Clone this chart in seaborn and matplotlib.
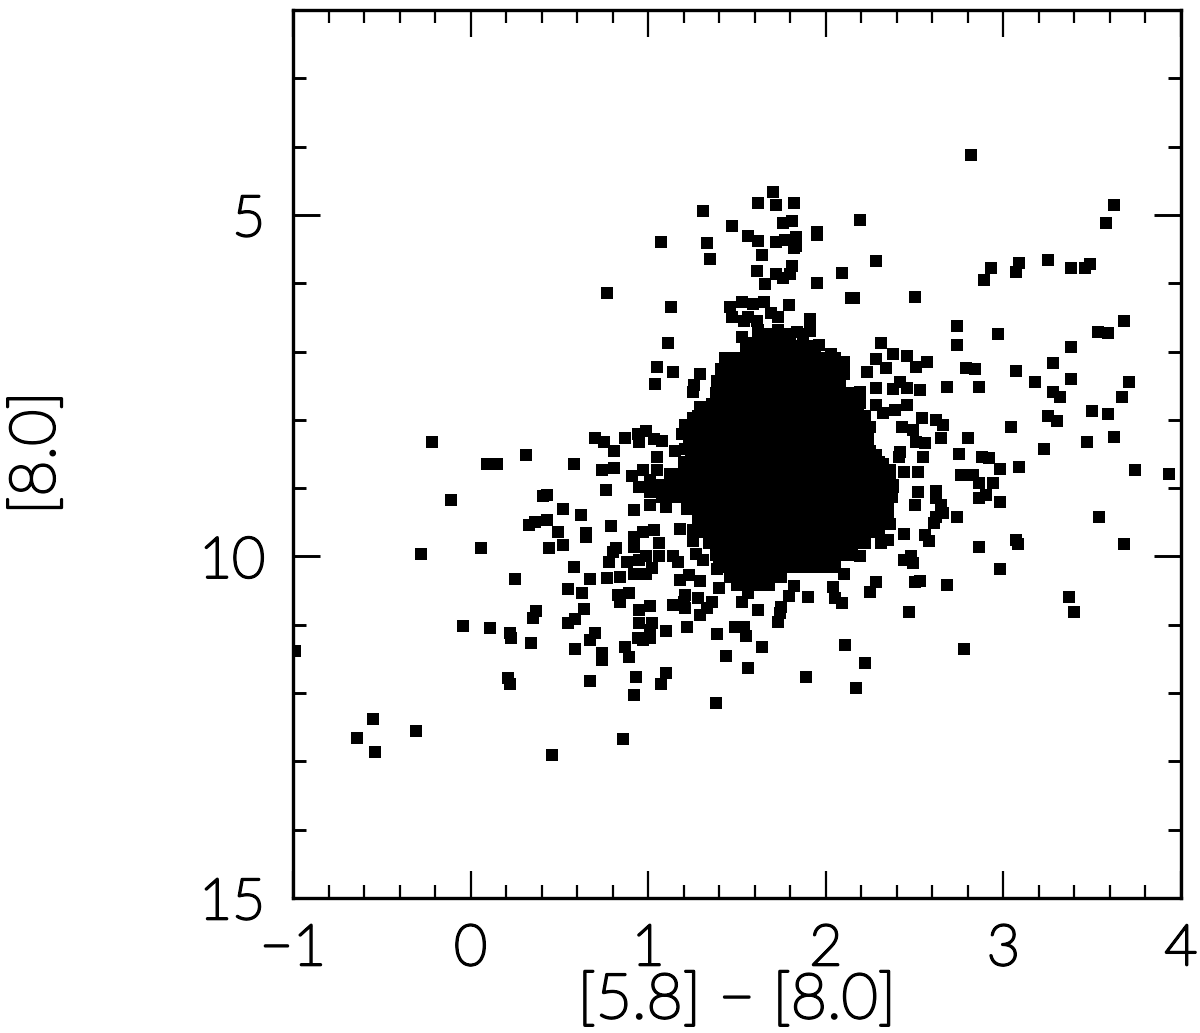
import pandas as pd
import matplotlib.pyplot as plt
import matplotlib.patheffects as pe
import seaborn as sb
from matplotlib.ticker import MultipleLocator

# (colour, magnitude), region by region
left_stars = [(1.31, 4.94), (1.47, 5.16), (1.07, 5.40), (1.33, 5.41), (1.35, 5.64), (0.77, 6.15), (1.13, 6.35),
              (1.11, 6.88), (1.05, 7.23), (1.14, 7.30), (1.04, 7.48), (1.29, 7.33), (1.26, 7.49), (1.25, 7.59),
              (1.29, 7.81), (1.25, 7.98), (1.21, 8.08), (1.19, 8.20), (1.23, 8.30), (1.21, 8.42), (1.15, 8.45),
              (-0.22, 8.33), (0.09, 8.65), (0.15, 8.64), (0.31, 8.52), (0.58, 8.65), (0.70, 8.26), (0.75, 8.32),
              (0.81, 8.45), (0.87, 8.27), (0.94, 8.20), (0.99, 8.17), (0.95, 8.32), (1.03, 8.28), (1.08, 8.31),
              (1.05, 8.54), (0.74, 8.73), (0.81, 8.71), (0.91, 8.82), (0.97, 8.74), (1.05, 8.74), (1.01, 8.88),
              (0.95, 8.98), (1.01, 9.05), (1.01, 9.25), (1.10, 9.05), (1.10, 9.27), (0.76, 9.03), (0.92, 9.32),
              (-0.11, 9.18), (0.41, 9.12), (0.43, 9.10), (0.52, 9.31), (0.62, 9.40), (0.79, 9.56), (0.33, 9.54),
              (0.36, 9.49), (0.43, 9.47), (0.49, 9.64), (0.65, 9.66), (0.65, 9.72), (0.52, 9.83), (0.44, 9.87),
              (0.06, 9.88), (-0.28, 9.96), (0.58, 10.16), (0.25, 10.33), (0.67, 10.33), (0.55, 10.48), (0.63, 10.54)]

low_stars = [(0.37, 10.80), (0.35, 10.90), (0.64, 10.77), (0.59, 10.91), (0.55, 10.97), (-0.04, 11.02), (0.11, 11.04),
             (0.22, 11.12), (0.23, 11.19), (0.34, 11.26), (0.70, 11.12), (0.67, 11.23), (0.59, 11.35), (0.74, 11.42),
             (0.74, 11.52), (0.87, 11.33), (0.89, 11.47), (0.21, 11.78), (0.22, 11.86), (0.67, 11.83), (0.93, 11.77),
             (1.10, 11.71), (1.07, 11.87), (0.92, 12.03), (1.38, 12.15), (-0.55, 12.38), (-0.64, 12.66), (-0.54, 12.86),
             (-0.31, 12.55), (0.46, 12.90), (0.86, 12.67), (-0.99, 11.39), (0.92, 9.71), (0.97, 9.64), (1.03, 9.61),
             (0.92, 9.86), (1.06, 9.81), (0.82, 9.87), (0.80, 9.93), (0.78, 10.08), (0.88, 10.08), (0.95, 10.05),
             (0.99, 10.00), (1.06, 10.00), (1.14, 10.00), (1.17, 10.08), (0.92, 10.25), (0.99, 10.25), (1.02, 10.17),
             (0.77, 10.32), (0.84, 10.30), (0.83, 10.57), (0.89, 10.53), (0.84, 10.66), (0.95, 10.79), (1.01, 10.73),
             (0.95, 10.97), (1.02, 10.97), (1.01, 11.08), (0.94, 11.19), (0.97, 11.22), (1.01, 11.20), (1.10, 11.09),
             (1.22, 11.03), (1.39, 11.13), (1.44, 11.46), (1.18, 9.60), (1.25, 9.61), (1.25, 9.78), (1.27, 9.96),
             (1.31, 10.05), (1.39, 10.18), (1.18, 10.35), (1.23, 10.27), (1.29, 10.36), (1.40, 10.46), (1.14, 10.71),
             (1.21, 10.57), (1.21, 10.76), (1.28, 10.61), (1.36, 10.66), (1.33, 10.76), (1.29, 10.86), (1.20, 10.66),
             (1.49, 11.03), (1.54, 11.03), (1.55, 11.16), (1.64, 11.32), (2.11, 11.29), (1.56, 11.64), (1.89, 11.76),
             (2.22, 11.56), (2.17, 11.93), (2.78, 11.35), (1.62, 10.79), (1.56, 10.54), (1.53, 10.66), (1.90, 10.60),
             (1.82, 10.43), (1.79, 10.58), (1.75, 10.74), (1.74, 10.83), (1.73, 10.96), (2.04, 10.44), (2.05, 10.61),
             (2.09, 10.68), (2.28, 10.38), (2.25, 10.52), (2.47, 10.82), (3.37, 10.59), (3.40, 10.81)]

top_stars = [(2.82, 4.12), (1.70, 4.66), (1.62, 4.83), (1.72, 4.86), (1.82, 4.83), (2.19, 5.07), (3.62, 4.86), (3.58, 5.12),
             (1.81, 5.09), (1.76, 5.12), (1.95, 5.25), (1.95, 5.30), (1.56, 5.31), (1.62, 5.38), (1.72, 5.40), (1.77, 5.37),
             (1.83, 5.32), (1.83, 5.46), (1.82, 5.49), (1.64, 5.59), (2.28, 5.67), (2.93, 5.77), (3.09, 5.70), (3.07, 5.83),
             (2.89, 5.96), (3.25, 5.66), (3.38, 5.78), (3.46, 5.78), (3.49, 5.72), (1.61, 5.82), (1.72, 5.86), (1.81, 5.75),
             (1.80, 5.86), (1.76, 5.92), (1.66, 6.01), (2.09, 5.85), (1.95, 5.99), (2.14, 6.22), (2.16, 6.22), (2.50, 6.20),
             (1.79, 6.32), (1.46, 6.35), (1.53, 6.27), (1.59, 6.30), (1.65, 6.28), (1.47, 6.50), (1.54, 6.56), (1.61, 6.56),
             (1.69, 6.44), (1.73, 6.49), (1.56, 6.49), (1.91, 6.52), (1.91, 6.70), (1.84, 6.71), (1.53, 6.78), (1.55, 6.88),
             (1.62, 6.69), (1.73, 6.69), (1.96, 6.91), (2.03, 7.03), (2.10, 7.16), (2.10, 7.33)]

right_stars = [(2.31, 6.87), (2.38, 7.03), (2.46, 7.07), (2.51, 7.22), (2.57, 7.16), (2.28, 7.11), (2.34, 7.24), (2.23, 7.30),
               (2.74, 6.62), (2.74, 6.91), (2.97, 6.75), (2.79, 7.24), (2.84, 7.26), (3.07, 7.29), (3.68, 6.55), (3.53, 6.71),
               (3.59, 6.73), (3.38, 6.93), (3.28, 7.17), (3.38, 7.40), (3.18, 7.45), (3.71, 7.45), (3.67, 7.66), (3.28, 7.59),
               (3.32, 7.67), (3.50, 7.87), (3.59, 7.91), (3.25, 7.95), (3.30, 8.02), (3.04, 8.11), (2.68, 7.52), (2.86, 7.52),
               (2.28, 7.54), (2.42, 7.44), (2.38, 7.55), (2.46, 7.54), (2.53, 7.56), (2.19, 7.59), (2.13, 7.61), (2.19, 7.76),
               (2.28, 7.78), (2.46, 7.78), (2.39, 7.85), (2.32, 7.90), (2.54, 7.98), (2.62, 8.00), (2.66, 8.08), (2.65, 8.26),
               (2.43, 8.10), (2.49, 8.15), (2.51, 8.32), (2.56, 8.34), (2.80, 8.27), (3.23, 8.42), (3.47, 8.32), (3.62, 8.25),
               (2.75, 8.50), (2.42, 8.47), (2.41, 8.55), (2.55, 8.55), (2.88, 8.55), (2.92, 8.56), (2.98, 8.72), (3.09, 8.69),
               (3.74, 8.74), (3.93, 8.80), (2.52, 8.76), (2.44, 8.77), (2.36, 8.73), (2.32, 8.64), (2.28, 8.51), (2.76, 8.81),
               (2.83, 8.81), (2.86, 8.92), (2.94, 8.92), (2.90, 9.10), (2.86, 9.14), (2.98, 9.21), (2.52, 9.05), (2.62, 9.04),
               (2.62, 9.15), (2.50, 9.24), (2.65, 9.25), (2.66, 9.37), (2.62, 9.42), (2.61, 9.51), (2.74, 9.42), (2.56, 9.68),
               (2.58, 9.78), (2.44, 9.67), (2.35, 9.76), (2.31, 9.80), (2.36, 9.52), (2.34, 9.17), (2.38, 8.98), (3.54, 9.42),
               (3.68, 9.82), (3.07, 9.76), (3.08, 9.82), (2.86, 9.86), (2.98, 10.18), (2.44, 10.05), (2.48, 10.00), (2.49, 10.09),
               (2.68, 10.42), (2.50, 10.37), (2.53, 10.36), (2.19, 10.00), (2.14, 9.91), (2.10, 10.25)]

# the solid clump in the middle, one magnitude row at a time
core_mag = [6.75, 6.92, 7.09, 7.26, 7.43, 7.60, 7.77, 7.94, 8.11, 8.28, 8.45, 8.62, 8.79, 8.96, 9.13, 9.30,
            9.47, 9.64, 9.81, 9.98, 10.15, 10.30, 10.42]
core_colour = [
    [1.62, 1.68, 1.74, 1.80, 1.87],
    [1.55, 1.61, 1.67, 1.73, 1.79, 1.85, 1.90, 1.94],
    [1.43, 1.49, 1.55, 1.61, 1.67, 1.73, 1.79, 1.85, 1.91, 1.97, 2.02, 2.05],
    [1.41, 1.47, 1.53, 1.59, 1.65, 1.71, 1.77, 1.83, 1.89, 1.95, 2.01, 2.05, 2.08],
    [1.39, 1.45, 1.51, 1.57, 1.63, 1.69, 1.75, 1.81, 1.87, 1.93, 1.99, 2.04, 2.08],
    [1.38, 1.44, 1.50, 1.56, 1.62, 1.68, 1.74, 1.80, 1.86, 1.92, 1.98, 2.03, 2.08],
    [1.36, 1.42, 1.48, 1.54, 1.60, 1.66, 1.72, 1.78, 1.84, 1.90, 1.96, 2.02, 2.08, 2.13, 2.18],
    [1.28, 1.34, 1.40, 1.46, 1.52, 1.58, 1.64, 1.70, 1.76, 1.82, 1.88, 1.94, 2.00, 2.06, 2.12, 2.17, 2.22],
    [1.26, 1.32, 1.38, 1.44, 1.50, 1.56, 1.62, 1.68, 1.74, 1.80, 1.86, 1.92, 1.98, 2.04, 2.10, 2.16, 2.21, 2.25],
    [1.25, 1.31, 1.37, 1.43, 1.49, 1.55, 1.61, 1.67, 1.73, 1.79, 1.85, 1.91, 1.97, 2.03, 2.09, 2.15, 2.20, 2.24],
    [1.24, 1.30, 1.36, 1.42, 1.48, 1.54, 1.60, 1.66, 1.72, 1.78, 1.84, 1.90, 1.96, 2.02, 2.08, 2.14, 2.20, 2.25],
    [1.20, 1.26, 1.32, 1.38, 1.44, 1.50, 1.56, 1.62, 1.68, 1.74, 1.80, 1.86, 1.92, 1.98, 2.04, 2.10, 2.16, 2.22, 2.26, 2.30],
    [1.12, 1.18, 1.24, 1.30, 1.36, 1.42, 1.48, 1.54, 1.60, 1.66, 1.72, 1.78, 1.84, 1.90, 1.96, 2.02, 2.08, 2.14, 2.20, 2.26, 2.31, 2.36],
    [1.08, 1.14, 1.20, 1.26, 1.32, 1.38, 1.44, 1.50, 1.56, 1.62, 1.68, 1.74, 1.80, 1.86, 1.92, 1.98, 2.04, 2.10, 2.16, 2.22, 2.28, 2.34, 2.38],
    [1.08, 1.14, 1.20, 1.26, 1.32, 1.38, 1.44, 1.50, 1.56, 1.62, 1.68, 1.74, 1.80, 1.86, 1.92, 1.98, 2.04, 2.10, 2.16, 2.22, 2.28, 2.33, 2.37],
    [1.22, 1.28, 1.34, 1.40, 1.46, 1.52, 1.58, 1.64, 1.70, 1.76, 1.82, 1.88, 1.94, 2.00, 2.06, 2.12, 2.18, 2.24, 2.30, 2.35],
    [1.28, 1.34, 1.40, 1.46, 1.52, 1.58, 1.64, 1.70, 1.76, 1.82, 1.88, 1.94, 2.00, 2.06, 2.12, 2.18, 2.24, 2.30, 2.35],
    [1.30, 1.36, 1.42, 1.48, 1.54, 1.60, 1.66, 1.72, 1.78, 1.84, 1.90, 1.96, 2.02, 2.08, 2.14, 2.20, 2.26, 2.30],
    [1.34, 1.40, 1.46, 1.52, 1.58, 1.64, 1.70, 1.76, 1.82, 1.88, 1.94, 2.00, 2.06, 2.12, 2.18, 2.22],
    [1.38, 1.44, 1.50, 1.56, 1.62, 1.68, 1.74, 1.80, 1.86, 1.92, 1.98, 2.04, 2.10, 2.15],
    [1.40, 1.46, 1.52, 1.58, 1.64, 1.70, 1.76, 1.82, 1.88, 1.94, 2.00, 2.05],
    [1.46, 1.52, 1.58, 1.64, 1.70, 1.75],
    [1.50, 1.56, 1.62, 1.68],
]

x_ticks = [-1, 0, 1, 2, 3, 4]
y_ticks = [5, 10, 15]

core_df = pd.DataFrame({"colour": core_colour, "mag": core_mag}).explode("colour")
stars_df = pd.DataFrame(left_stars + low_stars + top_stars + right_stars, columns=["colour", "mag"])
df = pd.concat([stars_df, core_df], ignore_index=True)
df["colour"] = df["colour"].astype(float)

sb.set_style("white")
plt.rcParams["font.family"] = ["Lato", "DejaVu Sans"]
plt.rcParams["font.weight"] = "light"

fig = plt.figure(figsize=(12, 10.33), dpi=100)
ax = fig.add_axes([293 / 1200, 1 - 898 / 1033, 888 / 1200, 888 / 1033])

sb.scatterplot(data=df, x="colour", y="mag", marker="s", s=84, color="black", linewidth=0, ax=ax)

ax.set_xlim(-1, 4)
ax.set_ylim(15, 2)
ax.set_xticks(x_ticks)
ax.set_yticks(y_ticks)
ax.set_xticklabels(["\u22121", "0", "1", "2", "3", "4"])
ax.xaxis.set_minor_locator(MultipleLocator(0.2))
ax.yaxis.set_minor_locator(MultipleLocator(1))

ax.tick_params(axis="x", which="major", direction="in", length=19.5, width=1.6, top=True, bottom=True,
               labelsize=41, pad=18, labelcolor="black", color="black")
ax.tick_params(axis="x", which="minor", direction="in", length=9.5, width=1.6, top=True, bottom=True, color="black")
ax.tick_params(axis="y", which="major", direction="in", length=19.5, width=2.1, left=True, right=True,
               labelsize=41, pad=20, labelcolor="black", color="black")
ax.tick_params(axis="y", which="minor", direction="in", length=9.5, width=2.1, left=True, right=True, color="black")
for side in ax.spines.values():
    side.set_visible(True)
    side.set_linewidth(2.4)
    side.set_color("black")

ax.set_xlabel("")
ax.set_ylabel("")
xlab = fig.text(737 / 1200, 1 - 1030 / 1033, "[5.8] \u2212 [8.0]", ha="center", va="bottom", fontsize=45, color="black")
ylab = fig.text(37 / 1200, 1 - 453 / 1033, "[8.0]", ha="center", va="center", rotation=90, fontsize=45, color="black")

# hairline face thickened to the even pen stroke of the original lettering
stroke = [pe.withStroke(linewidth=1.9, foreground="black")]
for label in ax.get_xticklabels() + ax.get_yticklabels() + [xlab, ylab]:
    label.set_path_effects(stroke)

fig.savefig("out.png", dpi=100)
